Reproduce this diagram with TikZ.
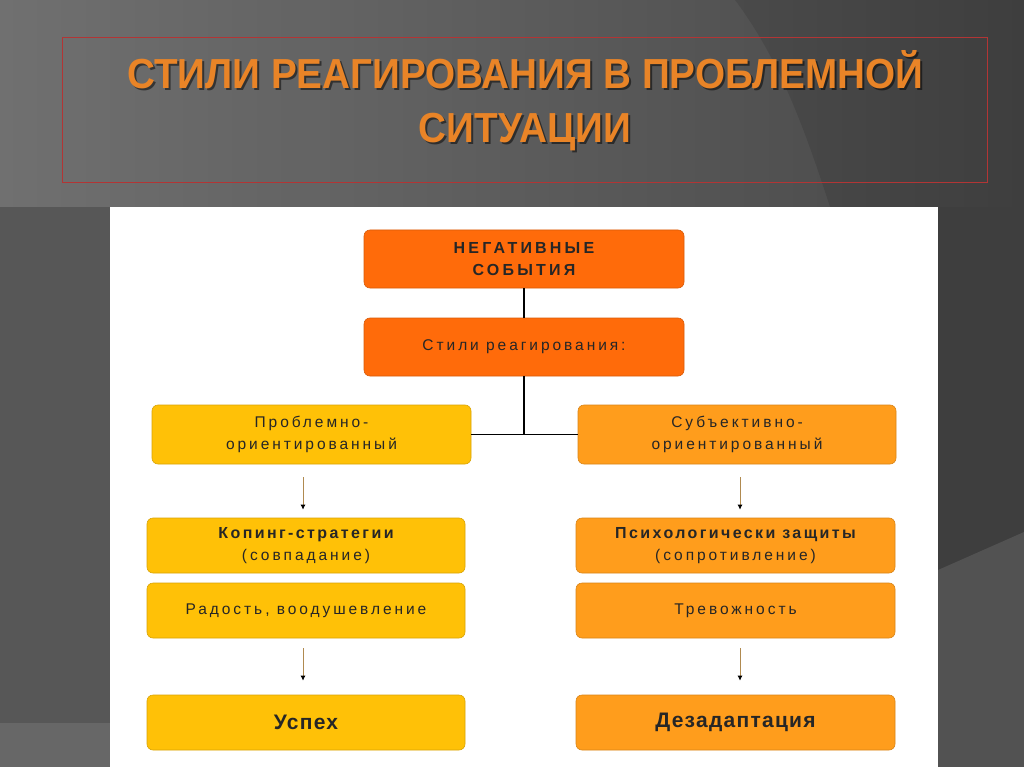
\documentclass[tikz,border=0pt]{standalone}
\usepackage{fontspec}
\setmainfont{Liberation Sans}
\newfontfamily\fr{Liberation Sans}[LetterSpace=19]
\newfontfamily\fb{Liberation Sans}[LetterSpace=15]
\newfontfamily\fn{Liberation Sans}[LetterSpace=20]
\newfontfamily\fbb{Liberation Sans}[LetterSpace=6]
\usetikzlibrary{arrows.meta,calc}
\definecolor{bgA}{HTML}{6C6C6C}
\definecolor{bgB}{HTML}{424242}
\definecolor{bgL}{HTML}{575757}
\definecolor{bgLb}{HTML}{676767}
\definecolor{bgR}{HTML}{3E3E3E}
\definecolor{bgRl}{HTML}{525252}
\definecolor{frameRed}{HTML}{B23535}
\definecolor{titleOr}{HTML}{E98427}
\definecolor{topOr}{HTML}{FF6B0A}
\definecolor{leftY}{HTML}{FFC107}
\definecolor{rightO}{HTML}{FF9D1C}
\definecolor{txt}{HTML}{262626}
\definecolor{arrBrown}{HTML}{B08A50}
\newcommand{\bsm}[1]{{\fb\bfseries\fontsize{16}{22}\selectfont #1}}
\newcommand{\bbig}[1]{{\fbb\bfseries\fontsize{21}{24}\selectfont #1}}
\newcommand{\bneg}[1]{{\fn\bfseries\fontsize{16}{22}\selectfont #1}}
\tikzset{
  box/.style={rounded corners=6pt, minimum width=318pt, minimum height=55pt,
    inner sep=0pt, align=center, text=txt, font=\fr\fontsize{15.5}{22}\selectfont},
  topbox/.style={box, fill=topOr, draw=topOr!85!black, line width=0.6pt, minimum width=320pt, minimum height=58pt},
  lbox/.style={box, fill=leftY, draw=leftY!85!black, line width=0.6pt},
  rbox/.style={box, fill=rightO, draw=rightO!85!black, line width=0.6pt},
  conn/.style={line width=2pt, black},
  arr/.style={line width=0.9pt, arrBrown, -{Latex[length=5pt,width=5pt,black]}},
  ttl/.style={font=\fontsize{42}{46}\selectfont\bfseries, inner sep=0pt, xscale=0.92, anchor=base}
}
\begin{document}
\begin{tikzpicture}[x=1pt,y=-1pt]
\useasboundingbox (0,0) rectangle (1024,767);
% background
\shade[left color=bgA, right color=bgB] (0,0) rectangle (1024,767);
\fill[white, opacity=0.03] (0,0) -- (735,0) .. controls (780,60) and (805,130) .. (830,207) -- (0,207) -- cycle;
\fill[black, opacity=0.05] (735,0) .. controls (780,60) and (805,130) .. (830,207) -- (1024,207) -- (1024,0) -- cycle;
\fill[bgL] (0,207) rectangle (110,723);
\fill[bgLb] (0,723) rectangle (110,767);
\fill[bgR] (938,207) rectangle (1024,767);
\fill[bgRl] (938,570) -- (1024,532) -- (1024,767) -- (938,767) -- cycle;
% red frame
\draw[frameRed, line width=1pt] (62,38) rectangle (987,183);
% title
\node[ttl, text=black, opacity=0.5] at (527,91) {СТИЛИ РЕАГИРОВАНИЯ В ПРОБЛЕМНОЙ};
\node[ttl, text=titleOr] (t1) at (525,89) {СТИЛИ РЕАГИРОВАНИЯ В ПРОБЛЕМНОЙ};
\node[ttl, text=black, opacity=0.5] at (527,145) {СИТУАЦИИ};
\node[ttl, text=titleOr] (t2) at (525,143) {СИТУАЦИИ};
% white panel
\fill[white] (110,207) rectangle (938,767);
% boxes
\node[topbox] (neg) at (524,259) {\bneg{НЕГАТИВНЫЕ}\\\bneg{СОБЫТИЯ}};
\node[topbox] (sty) at (524,347) {Стили реагирования:};
\node[lbox, minimum height=59pt, minimum width=319pt] (pl) at (311.5,434.5) {Проблемно-\\ориентированный};
\node[rbox, minimum height=59pt] (pr) at (737,434.5) {Субъективно-\\ориентированный};
\node[lbox] (kop) at (306,545.5) {\bsm{Копинг-стратегии}\\(совпадание)};
\node[rbox, minimum width=319pt] (psy) at (735.5,545.5) {\bsm{Психологически защиты}\\(сопротивление)};
\node[lbox] (rad) at (306,610.5) {Радость, воодушевление};
\node[rbox, minimum width=319pt] (trev) at (735.5,610.5) {Тревожность};
\node[lbox] (usp) at (306,722.5) {\bbig{Успех}};
\node[rbox, minimum width=319pt] (dez) at (735.5,722.5) {\bbig{Дезадаптация}};
% connectors
\draw[conn] (neg.south) -- (sty.north);
\draw[conn] (sty.south) -- (sty.south |- pl.east);
\draw[conn, line width=1.6pt] (pl.east) -- (pr.west);
\draw[arr] ($(pl.south)+(-8.5,13)$) -- ($(kop.north)+(-3,-8)$);
\draw[arr] ($(pr.south)+(3,13)$) -- ($(psy.north)+(4.5,-8)$);
\draw[arr] ($(rad.south)+(-3,10)$) -- ($(usp.north)+(-3,-14)$);
\draw[arr] ($(trev.south)+(4.5,10)$) -- ($(dez.north)+(4.5,-14)$);
\end{tikzpicture}
\end{document}
